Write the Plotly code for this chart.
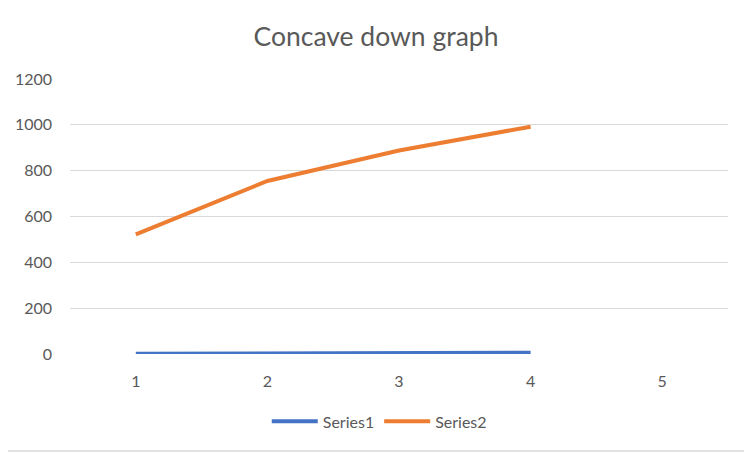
import plotly.graph_objects as go

x_vals = [1, 2, 3, 4]
series1 = [1, 4, 5, 6]
series2 = [522, 755, 888, 992]
x_ticks = [1, 2, 3, 4, 5]
y_ticks = [0, 200, 400, 600, 800, 1000, 1200]

fig = go.Figure()
fig.add_trace(go.Scatter(x=x_vals, y=series1, mode="lines", name="Series1",
                         line=dict(color="#4472C4", width=4)))
fig.add_trace(go.Scatter(x=x_vals, y=series2, mode="lines", name="Series2",
                         line=dict(color="#ED7D31", width=4)))

# page body has an 8px margin, so the figure is a bit smaller than the window
fig.update_layout(
    width=744, height=444,
    margin=dict(l=62, r=24, t=71, b=98),
    paper_bgcolor="white", plot_bgcolor="white",
    font=dict(family="Lato, Open Sans, sans-serif", color="#595959", size=16),
    title=dict(text="Concave down graph", xref="paper", x=0.465, xanchor="center",
               y=0.935, yanchor="middle", font=dict(size=26.5, color="#595959")),
    showlegend=True,
    legend=dict(orientation="h", xref="paper", x=0.47, xanchor="center", y=-0.245,
                yanchor="middle", font=dict(size=16, color="#595959"), itemwidth=46),
    shapes=[dict(type="rect", xref="paper", yref="paper", x0=-70/658, x1=1+23/658,
                 y0=-97/275, y1=1+78/275, line=dict(color="#d9d9d9", width=1.5))],
)
fig.update_xaxes(range=[0.5, 5.5], tickvals=x_ticks, showgrid=False, zeroline=False,
                 showline=False, ticks="", ticklabelstandoff=16, automargin=False)
fig.update_yaxes(range=[0, 1200], tickvals=y_ticks, showgrid=True, gridcolor="#d9d9d9",
                 gridwidth=1, zeroline=False, showline=False, ticks="", ticklabelstandoff=17,
                 automargin=False)

fig.write_html("out.html")
